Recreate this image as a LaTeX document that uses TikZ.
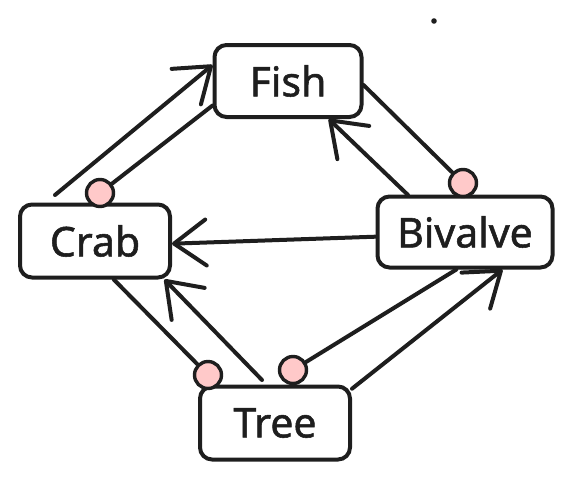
\documentclass[tikz,border=0pt]{standalone}
\usepackage{fontspec}
\setmainfont{Noto Sans}
\newfontfamily\labelfont{Noto Sans}[FakeBold=1.3]
\usetikzlibrary{arrows.meta}

\definecolor{inkc}{HTML}{1E1E1E}
\definecolor{pinkc}{HTML}{FFC9C9}

\tikzset{
  animal/.style={draw=inkc, line width=4pt, rounded corners=12pt, fill=white,
    inner sep=0pt, text=inkc, font=\labelfont\fontsize{41}{48}\selectfont\addfontfeature{FakeBold=1.3}},
  link/.style={draw=inkc, line width=4pt, line cap=round},
  feeds/.style={link, -{Straight Barb[length=32pt,width=46pt,line width=4pt,round]}},
  dotc/.style={circle, draw=inkc, line width=3.4pt, fill=pinkc, minimum size=27pt, inner sep=0pt}
}

\begin{document}
\begin{tikzpicture}[x=1pt, y=-1pt]
\useasboundingbox (0,0) rectangle (578,480);

% Organisms
\node[animal, minimum width=147pt, minimum height=72pt] (fish) at (288,81) {Fish};
\node[animal, minimum width=150pt, minimum height=73pt] (crab) at (95,241) {Crab};
\node[animal, minimum width=175pt, minimum height=71pt] (bivalve) at (465,232) {Bivalve};
\node[animal, minimum width=150pt, minimum height=73pt] (tree) at (275,423) {Tree};

% Free ends of the arrows
\coordinate (crabtail) at (55,195);
\coordinate (bivtail) at (408,195);
\coordinate (treetail) at (262,380);

% Round ends
\node[dotc] (crabdot) at (100,193) {};
\node[dotc] (bivdot) at (463,183) {};
\node[dotc] (treedotl) at (208,375) {};
\node[dotc] (treedotr) at (293,370) {};

% Plain links to the round ends
\draw[link] (fish.198) -- (crabdot);
\draw[link] (fish.357) -- (bivdot);
\draw[link] (crab.296) -- (treedotl);
\draw[link] (bivalve.257) -- (treedotr);

% Arrows
\draw[feeds] (crabtail) -- (fish.168);
\draw[feeds] (bivtail) -- (fish.317);
\draw[feeds] (bivalve.183) -- (crab.358);
\draw[feeds] (treetail) -- (crab.331);
\draw[feeds] (tree.24) -- (bivalve.315);

% Stray dot
\fill[inkc] (434,21) circle (2.8pt);

\end{tikzpicture}
\end{document}
